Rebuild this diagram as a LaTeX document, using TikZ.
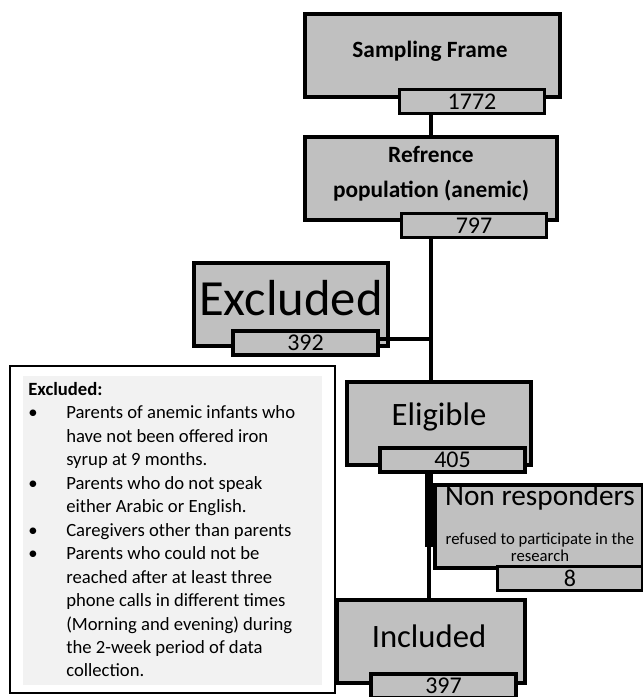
\documentclass[tikz,border=0pt]{standalone}
\usepackage{fontspec}
\setmainfont{Carlito}
\usetikzlibrary{shapes}
\definecolor{boxgray}{HTML}{C0C0C0}
\definecolor{notegray}{HTML}{F2F2F2}
\newcommand{\exbul}{\makebox[28.5pt][l]{\textbullet}}
\newcommand{\exind}{\hspace*{28.5pt}}

\begin{document}
\begin{tikzpicture}[x=0.75pt,y=-0.75pt]
                \tikzstyle{mainbox}=[draw,line width=2.6pt,fill=boxgray,minimum height=62pt,inner sep=0pt]
                \tikzstyle{numbox}=[draw,line width=2.6pt,fill=boxgray,minimum width=109pt,minimum height=18pt,inner sep=0pt,font=\fontsize{18pt}{20pt}\selectfont]
                \tikzstyle{link}=[line width=3pt]
                \tikzstyle{bigtxt}=[anchor=base,inner sep=0pt,font=\fontsize{24.5pt}{28pt}\selectfont]
                \tikzstyle{boldtxt}=[inner sep=0pt,font=\bfseries\fontsize{17.5pt}{26.25pt}\selectfont]
                
                \clip (0,0) rectangle (643,697);
                
                \node[mainbox,minimum width=191pt] (frame) at (432.5,55.5) {};
                \node[mainbox,minimum width=189pt] (refpop) at (431,178.5) {};
                \node[mainbox,minimum width=145.5pt] (excl) at (291,304.5) {};
                \node[mainbox,minimum width=138pt] (elig) at (439,423.5) {};
                \node[mainbox,minimum width=156pt] (nonresp) at (539,526.5) {};
                \node[mainbox,minimum width=141pt] (incl) at (431,641.5) {};
                
                \node[boldtxt,anchor=base] (frametxt) at (430,57) {Sampling Frame};
                \node[boldtxt,align=center] (refpoptxt) at (431,174) {Refrence\\population (anemic)};
                \node[bigtxt,font=\fontsize{38pt}{40pt}\selectfont] (excltxt) at (291,315) {Excluded};
                \node[bigtxt] (eligtxt) at (439,425) {Eligible};
                \node[bigtxt,font=\fontsize{22pt}{24pt}\selectfont] (nonresptxt) at (540,505) {Non responders};
                \node[inner sep=0pt,align=center,font=\fontsize{12.5pt}{13pt}\selectfont] (refusedtxt) at (540,547) {refused to participate in the\\research};
                \node[bigtxt] (incltxt) at (429,647) {Included};
                
                \node[numbox] (n1772) at (472,101.5) {1772};
                \node[numbox] (n797) at (474,225.5) {797};
                \node[numbox] (n392) at (305.5,343) {392};
                \node[numbox] (n405) at (452.5,460) {405};
                \node[numbox] (n8) at (570,578.5) {8};
                \node[numbox] (n397) at (443.5,686) {397};
                
                \coordinate (bar) at (429,547);
                
                \draw[link] (n1772.south -| refpop.north) -- (refpop.north);
                \draw[link,line width=3.5pt] (n797.south -| refpop.south) -- (refpop.south |- elig.north);
                \draw[link] ([yshift=3]n392.east) -- ([yshift=3]n392.east -| refpop.south);
                \draw[line width=6pt] (n405.south -| bar) -- (bar);
                \draw[link] (bar) -- (bar |- incl.north);
                
                \draw[line width=1.2pt,fill=white] (10,366) rectangle (335,693);
                \fill[notegray] (23,376) rectangle (322,685);
                \node[anchor=north west,inner sep=0pt,align=left,font=\fontsize{14pt}{17.6pt}\selectfont] (note) at (28,382) {\textbf{Excluded:}\\
                \exbul Parents of anemic infants who\\
                \exind have not been offered iron\\
                \exind syrup at 9 months.\\
                \exbul Parents who do not speak\\
                \exind either Arabic or English.\\
                \exbul Caregivers other than parents\\
                \exbul Parents who could not be\\
                \exind reached after at least three\\
                \exind phone calls in different times\\
                \exind (Morning and evening) during\\
                \exind the 2-week period of data\\
                \exind collection.};
                
                \end{tikzpicture}
\end{document}
